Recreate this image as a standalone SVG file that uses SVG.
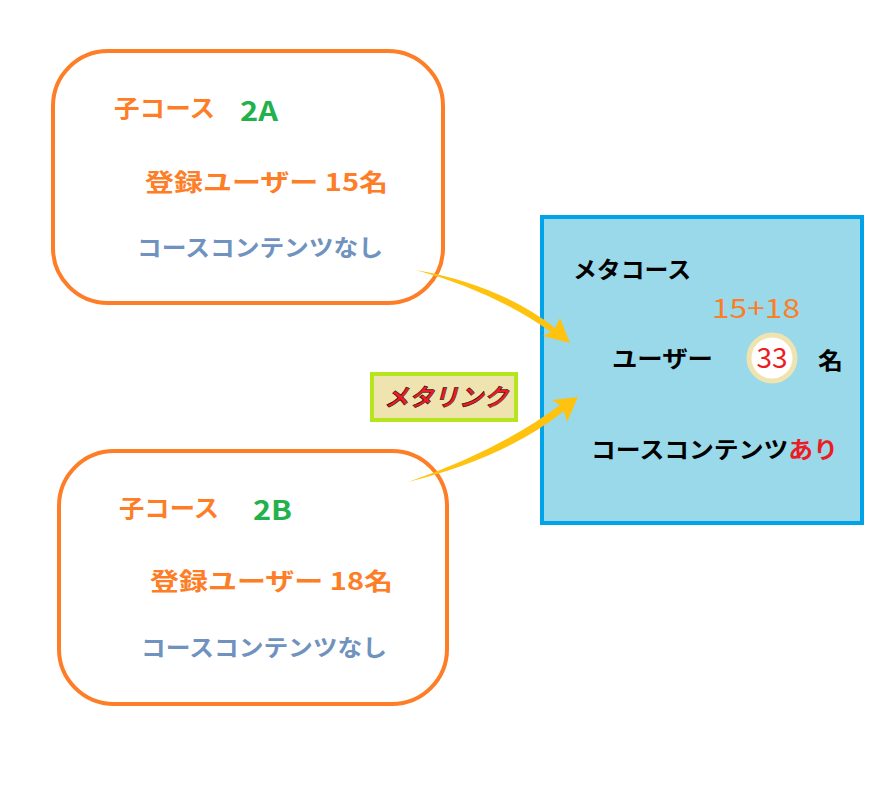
<svg xmlns="http://www.w3.org/2000/svg" width="890" height="796" viewBox="0 0 890 796">
<style>
.child{fill:#fff;stroke:#fd7e27;stroke-width:4}
text{font-family:"Noto Sans CJK JP","Liberation Sans",sans-serif;font-weight:bold}
.o{fill:#fd7e27;font-size:24px}
.g{fill:#22b14c;font-size:27px}
.b{fill:#7092be;font-size:23px}
.k{fill:#000;font-size:23px}
.r{fill:#ed1c24}
.arr{fill:#ffc20e}
</style>
<rect width="890" height="796" fill="#fff"/>
<g id="childA">
<rect class="child" x="53" y="51" width="390" height="252" rx="55"/>
<text class="o" x="114" y="117" textLength="101" lengthAdjust="spacingAndGlyphs">子コース</text>
<text class="g" x="240" y="121" textLength="38" lengthAdjust="spacingAndGlyphs">2A</text>
<text class="o" x="145" y="191" textLength="243" lengthAdjust="spacingAndGlyphs">登録ユーザー 15名</text>
<text class="b" x="137" y="256" textLength="246" lengthAdjust="spacingAndGlyphs">コースコンテンツなし</text>
</g>
<g id="childB">
<rect class="child" x="59" y="451" width="388" height="253" rx="55"/>
<text class="o" x="119" y="517" textLength="100" lengthAdjust="spacingAndGlyphs">子コース</text>
<text class="g" x="253" y="520" textLength="39" lengthAdjust="spacingAndGlyphs">2B</text>
<text class="o" x="150" y="590" textLength="243" lengthAdjust="spacingAndGlyphs">登録ユーザー 18名</text>
<text class="b" x="141" y="656" textLength="246" lengthAdjust="spacingAndGlyphs">コースコンテンツなし</text>
</g>
<g id="meta">
<rect x="542" y="217" width="320" height="306" fill="#99d9ea" stroke="#00a2e8" stroke-width="4"/>
<text class="k" x="573" y="278" textLength="118" lengthAdjust="spacingAndGlyphs">メタコース</text>
<text x="712" y="318" fill="#fd7e27" font-size="27" style="font-weight:normal" textLength="88" lengthAdjust="spacingAndGlyphs">15+18</text>
<text class="k" x="612" y="367" textLength="101" lengthAdjust="spacingAndGlyphs">ユーザー</text>
<circle cx="772" cy="358" r="23" fill="#fff" stroke="#efe4b0" stroke-width="5"/>
<text x="772" y="368" text-anchor="middle" fill="#ed1c24" font-size="28" style="font-weight:normal">33</text>
<text class="k" x="818" y="369" textLength="25" lengthAdjust="spacingAndGlyphs">名</text>
<text class="k" x="591" y="458" textLength="247" lengthAdjust="spacingAndGlyphs">コースコンテンツ<tspan class="r">あり</tspan></text>
</g>
<g id="label">
<rect x="372" y="374" width="144" height="46" fill="#efe4b0" stroke="#b5e61d" stroke-width="4"/>
<text x="384" y="406" fill="#ed1c24" font-size="24" font-style="italic" stroke="#000" stroke-width="0.5" textLength="124" lengthAdjust="spacingAndGlyphs">メタリンク</text>
</g>
<g id="connectors">
<path class="arr" d="M416,270 Q500,285 555,328 L560,318 L570,343 L543,336 L551,332 Q495,292 416,270 Z"/>
<path class="arr" d="M408,482 Q500,450 560,405 L552,400 L578,397 L567,422 L564,411 Q505,458 408,482 Z"/>
</g>
</svg>
